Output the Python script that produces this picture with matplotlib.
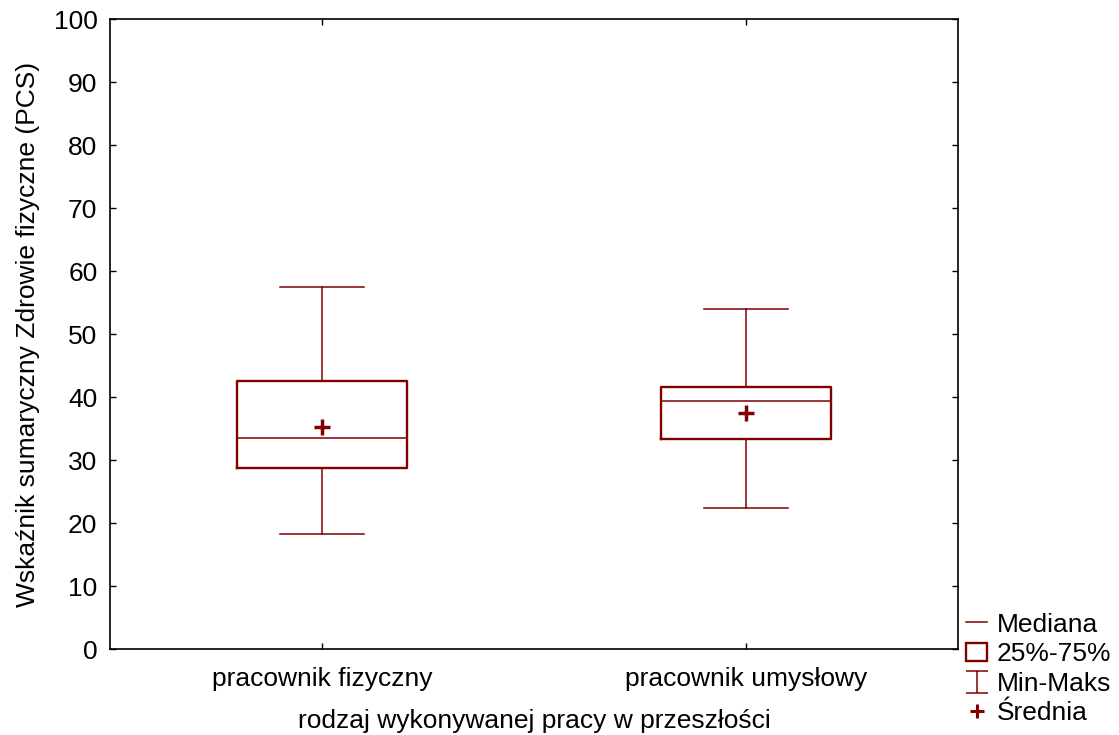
import matplotlib.pyplot as plt
from matplotlib.lines import Line2D
from matplotlib.patches import Rectangle
from matplotlib.path import Path

plt.rcParams['font.family'] = ['Liberation Sans', 'DejaVu Sans']

categories = ["pracownik fizyczny", "pracownik umysłowy"]
mins = [18.2, 22.4]
q1 = [28.7, 33.3]
medians = [33.5, 39.3]
q3 = [42.5, 41.6]
maxs = [57.5, 54.0]
means = [35.2, 37.5]

col = "#800000"
fs = 19

stats = []
for i in range(len(categories)):
    stats.append({"label": categories[i], "whislo": mins[i], "q1": q1[i],
                  "med": medians[i], "q3": q3[i], "whishi": maxs[i],
                  "mean": means[i], "fliers": []})

fig = plt.figure(figsize=(11.19, 7.35), dpi=100)
ax = fig.add_axes([0.0983, 0.117, 0.7577, 0.857])

ax.bxp(stats, positions=[0, 1], widths=0.4, capwidths=0.2,
       showmeans=True, showfliers=False,
       boxprops=dict(color=col, linewidth=1.7),
       medianprops=dict(color=col, linewidth=1.1),
       whiskerprops=dict(color=col, linewidth=1.1),
       capprops=dict(color=col, linewidth=1.1),
       meanprops=dict(marker="+", markeredgecolor=col, markersize=11,
                      markeredgewidth=2.5))

ax.set_xlim(-0.5, 1.5)
ax.set_ylim(0, 100)
ax.set_yticks(range(0, 101, 10))
ax.set_xticks([0, 1])
ax.set_xticklabels(categories)
ax.tick_params(direction="in", length=4, width=1, top=True, right=True,
               labelsize=fs, pad=9)
ax.tick_params(axis="x", pad=13)
for s in ax.spines.values():
    s.set_linewidth(1.2)

ax.set_xlabel("rodzaj wykonywanej pracy w przeszłości", fontsize=fs, labelpad=13)
ax.set_ylabel("Wskaźnik sumaryczny Zdrowie fizyczne (PCS)", fontsize=fs, labelpad=10)

# legend keys
ibeam = Path([(-1, 1), (1, 1), (0, 1), (0, -1), (-1, -1), (1, -1)],
             [Path.MOVETO, Path.LINETO, Path.MOVETO, Path.LINETO,
              Path.MOVETO, Path.LINETO])
h_med = Line2D([], [], color=col, linewidth=1.1)
h_box = Rectangle((0, 0), 1, 1, facecolor="white", edgecolor=col, linewidth=1.7)
h_mm = Line2D([], [], linestyle="none", marker=ibeam, markersize=16,
              markeredgecolor=col, markeredgewidth=1.1, color=col)
h_mean = Line2D([], [], linestyle="none", marker="+", markersize=10,
                markeredgecolor=col, markeredgewidth=2.2)

fig.legend([h_med, h_box, h_mm, h_mean],
           ["Mediana", "25%-75%", "Min-Maks", "Średnia"],
           loc="lower left", bbox_to_anchor=(0.847, -0.012), frameon=False,
           fontsize=fs, handlelength=0.8, handletextpad=0.35,
           labelspacing=0.21, borderpad=0.2)

fig.savefig("out.png", dpi=100)
